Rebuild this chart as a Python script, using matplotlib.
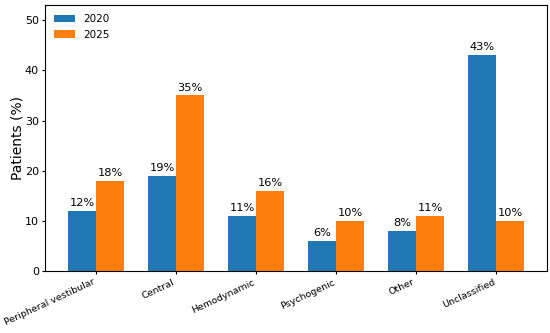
import matplotlib.pyplot as plt
import numpy as np

categories = ["Peripheral vestibular", "Central", "Hemodynamic",
              "Psychogenic", "Other", "Unclassified"]
values_2020 = [12, 19, 11, 6, 8, 43]
values_2025 = [18, 35, 16, 10, 11, 10]

x = np.arange(len(categories))
width = 0.35

fig, ax = plt.subplots(figsize=(5.5, 3.33), dpi=100)
b1 = ax.bar(x - width / 2, values_2020, width, label="2020", color="#1f77b4")
b2 = ax.bar(x + width / 2, values_2025, width, label="2025", color="#ff7f0e")

for bars in (b1, b2):
    for bar in bars:
        h = bar.get_height()
        ax.annotate(f"{h:.0f}%", xy=(bar.get_x() + bar.get_width() / 2, h),
                    xytext=(0, 2), textcoords="offset points",
                    ha="center", va="bottom", fontsize=8.2)

ax.set_ylabel("Patients (%)", fontsize=10, labelpad=0)
ax.set_ylim(0, 53)
ax.set_xticks(x)
ax.set_xticklabels(categories, rotation=25, ha="right", fontsize=6.8)
ax.tick_params(axis="both", length=2.5, pad=2)
ax.tick_params(axis="y", labelsize=8)
ax.legend(frameon=False, fontsize=7.5, loc="upper left")

fig.subplots_adjust(left=0.082, right=0.995, top=0.985, bottom=0.185)
fig.savefig("out.png")
